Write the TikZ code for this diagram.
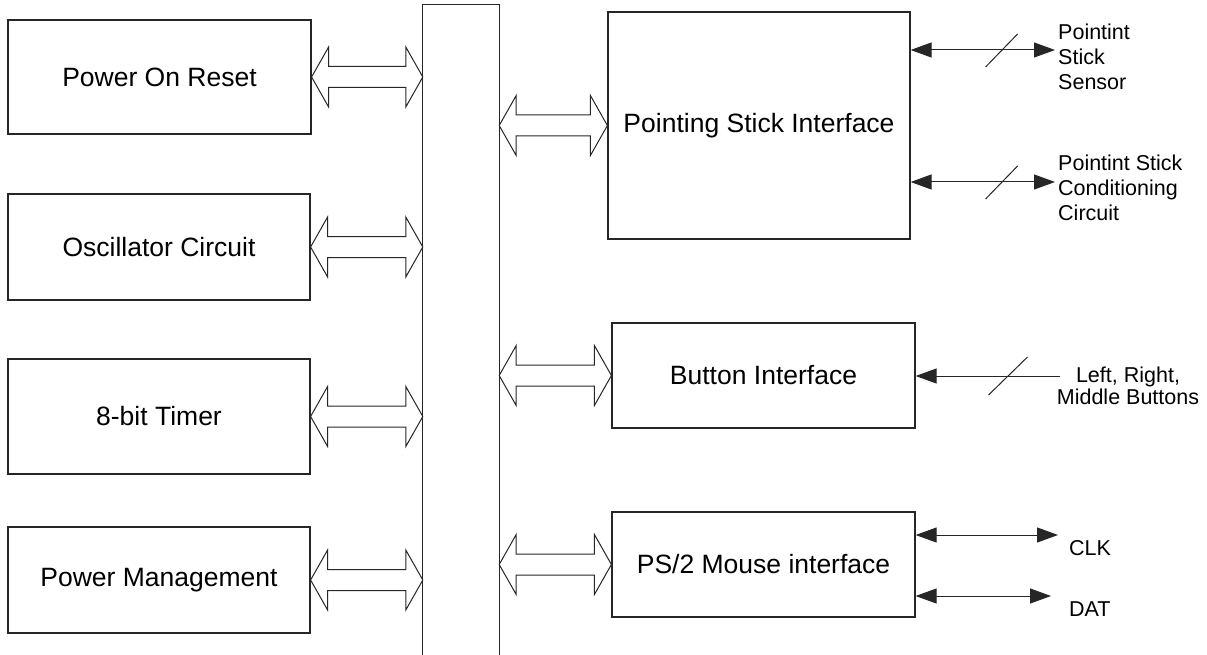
\documentclass[tikz,border=0pt]{standalone}
\usepackage{fontspec}
\setmainfont{Liberation Sans}
\usetikzlibrary{arrows.meta,calc}
\newcommand\busarrow[2]{%
  \draw[busline] (#1) -- ($(#1)+(17,-30)$) -- ($(#1)+(17,-10.5)$) -- ($(#2)+(-17,-10.5)$)
    -- ($(#2)+(-17,-30)$) -- (#2) -- ($(#2)+(-17,30)$) -- ($(#2)+(-17,10.5)$)
    -- ($(#1)+(17,10.5)$) -- ($(#1)+(17,30)$) -- cycle;}
\begin{document}
\begin{tikzpicture}[x=1pt,y=-1pt,
  blockbox/.style={draw=black!85,line width=1.2pt,inner sep=0pt,
    font=\fontsize{26.5}{31}\selectfont},
  busline/.style={draw=black!85,line width=1pt,line join=miter},
  sigline/.style={draw=black!85,line width=1pt},
  sigtip/.style={-{Triangle[length=21pt,width=15pt]}},
  sigtips/.style={{Triangle[length=21pt,width=15pt]}-{Triangle[length=21pt,width=15pt]}},
  small/.style={inner sep=0pt,font=\fontsize{21.5}{25}\selectfont}]
\useasboundingbox (0,0) rectangle (1207,655);
% left blocks
\node[blockbox,minimum width=303pt,minimum height=114pt] (por) at (159.5,77) {Power On Reset};
\node[blockbox,minimum width=302pt,minimum height=106pt] (osc) at (159,247) {Oscillator Circuit};
\node[blockbox,minimum width=302pt,minimum height=115pt] (tim) at (159,416.5) {8-bit Timer};
\node[blockbox,minimum width=302pt,minimum height=106pt] (pm) at (159,580) {Power Management};
% bus
\node[minimum width=76pt,minimum height=650pt,inner sep=0pt] (bus) at (461,330) {};
\draw[busline,line width=1.2pt] (bus.south west) -- (bus.north west) -- (bus.north east) -- (bus.south east);
% right blocks
\node[blockbox,minimum width=302pt,minimum height=227pt] (psi) at (759,125.5) {Pointing Stick Interface};
\node[blockbox,minimum width=303pt,minimum height=105pt] (btn) at (763.5,375.5) {Button Interface};
\node[blockbox,minimum width=303pt,minimum height=105pt] (ps2) at (763.5,564.5) {PS/2 Mouse interface};
% bus arrows
\busarrow{por.east}{bus.west |- por.east}
\busarrow{osc.east}{bus.west |- osc.east}
\busarrow{tim.east}{bus.west |- tim.east}
\busarrow{pm.east}{bus.west |- pm.east}
\busarrow{bus.east |- psi.west}{psi.west}
\busarrow{bus.east |- btn.west}{btn.west}
\busarrow{bus.east |- ps2.west}{ps2.west}
% signal ends
\coordinate (sen) at (1055,50);
\coordinate (con) at (1055,182);
\coordinate (but) at (1060,376);
\coordinate (clk) at (1058,535);
\coordinate (dat) at (1051,596);
\draw[sigline,sigtips] (psi.east |- sen) -- (sen) coordinate[pos=0.63] (m1);
\draw[sigline] ($(m1)+(-16,17)$) -- ($(m1)+(16,-16)$);
\draw[sigline,sigtips] (psi.east |- con) -- (con) coordinate[pos=0.63] (m2);
\draw[sigline] ($(m2)+(-16,17)$) -- ($(m2)+(16,-16)$);
\draw[sigline,sigtip] (but) -- (btn.east |- but) coordinate[pos=0.36] (m3);
\draw[sigline] ($(m3)+(-19.5,19)$) -- ($(m3)+(19.5,-19)$);
\draw[sigline,sigtips] (ps2.east |- clk) -- (clk);
\draw[sigline,sigtips] (ps2.east |- dat) -- (dat);
% labels
\node[small,anchor=north west,align=left] (lsen) at (1058,24) {Pointint\\Stick\\Sensor};
\node[small,anchor=north west,align=left] (lcon) at (1058,155) {Pointint Stick\\Conditioning\\Circuit};
\node[small,anchor=north,align=center,font=\fontsize{21.5}{21.5}\selectfont] (lbut) at (1128,367) {Left, Right,\\Middle Buttons};
\node[small,anchor=west] (lclk) at (1069,548) {CLK};
\node[small,anchor=west] (ldat) at (1069,609) {DAT};
\end{tikzpicture}
\end{document}
